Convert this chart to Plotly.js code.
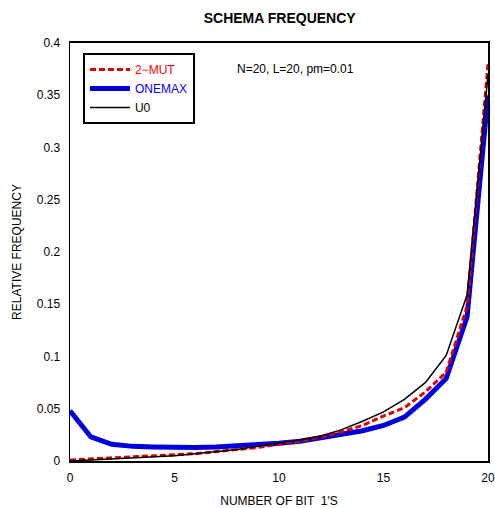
<!DOCTYPE html>
<html>
<head>
<meta charset="utf-8">
<script src="https://cdn.plot.ly/plotly-3.0.1.min.js"></script>
<style>html,body{margin:0;padding:0;background:#fff;}</style>
</head>
<body>
<div id="chart" style="width:495px;height:508px;"></div>
<script>
const bits = [0,1,2,3,4,5,6,7,8,9,10,11,12,13,14,15,16,17,18,19,20];
const mut2 = [0.001,0.002,0.003,0.004,0.005,0.006,0.007,0.009,0.011,0.013,0.016,0.019,0.023,0.028,0.034,0.043,0.051,0.066,0.085,0.148,0.38];
const onemax = [0.048,0.023,0.016,0.014,0.0135,0.013,0.013,0.0135,0.0145,0.015,0.017,0.019,0.022,0.025,0.029,0.034,0.042,0.059,0.079,0.138,0.35];
const u0 = [0.000,0.001,0.002,0.003,0.004,0.005,0.007,0.009,0.011,0.014,0.017,0.020,0.024,0.030,0.038,0.047,0.059,0.075,0.101,0.159,0.37];
const xTicks = [0,5,10,15,20];
const yTicks = [0,0.05,0.1,0.15,0.2,0.25,0.3,0.35,0.4];
const yTickText = ['0','0.05','0.1','0.15','0.2','0.25','0.3','0.35','0.4'];

const font = 'Liberation Sans, Arial, sans-serif';

const traces = [
  {x: bits, y: onemax, mode: 'lines', name: '<span style="color:#0000ff">ONEMAX</span>',
   line: {color: '#0000dd', width: 5}, legendrank: 2},
  {x: bits, y: mut2, mode: 'lines', name: '<span style="color:#ff0000">2\u2212MUT</span>',
   line: {color: '#dd0000', width: 3, dash: '6px,3px'}, legendrank: 1},
  {x: bits, y: u0, mode: 'lines', name: 'U0',
   line: {color: '#000000', width: 1.5}, legendrank: 3}
];

const layout = {
  width: 495, height: 508,
  margin: {l: 70, r: 7, t: 43, b: 47},
  paper_bgcolor: '#fff', plot_bgcolor: '#fff',
  font: {family: font, size: 12, color: '#000'},
  title: {text: '<b>SCHEMA FREQUENCY</b>', font: {family: font, size: 14, color: '#000'},
          x: 0.565, xanchor: 'center', y: 0.965, yanchor: 'middle'},
  showlegend: true,
  legend: {x: 0.031, y: 0.976, xanchor: 'left', yanchor: 'top',
           bordercolor: '#000', borderwidth: 2, bgcolor: '#fff',
           font: {family: font, size: 12, color: '#000'},
           tracegroupgap: 0, itemwidth: 40},
  xaxis: {range: [0, 20], tickvals: xTicks, ticks: '', showgrid: false, zeroline: false,
          showline: true, linecolor: '#000', linewidth: 2, mirror: true,
          tickfont: {family: font, size: 12}, ticklabelstandoff: 5,
          title: {text: 'NUMBER OF BIT  1\'S', font: {family: font, size: 12}, standoff: 12}},
  yaxis: {range: [0, 0.4], tickvals: yTicks, ticktext: yTickText, ticks: '', showgrid: false, zeroline: false,
          showline: true, linecolor: '#000', linewidth: 1.5, mirror: true,
          tickfont: {family: font, size: 12}, ticklabelstandoff: 6,
          title: {text: 'RELATIVE FREQUENCY', font: {family: font, size: 12}, standoff: 12}},
  annotations: [{xref: 'paper', yref: 'paper', x: 0.395, y: 0.937, xanchor: 'left', yanchor: 'middle',
                 text: 'N=20, L=20, pm=0.01', showarrow: false, font: {family: font, size: 12, color: '#000'}}]
};

Plotly.newPlot('chart', traces, layout, {displayModeBar: false, staticPlot: true});
</script>
</body>
</html>
